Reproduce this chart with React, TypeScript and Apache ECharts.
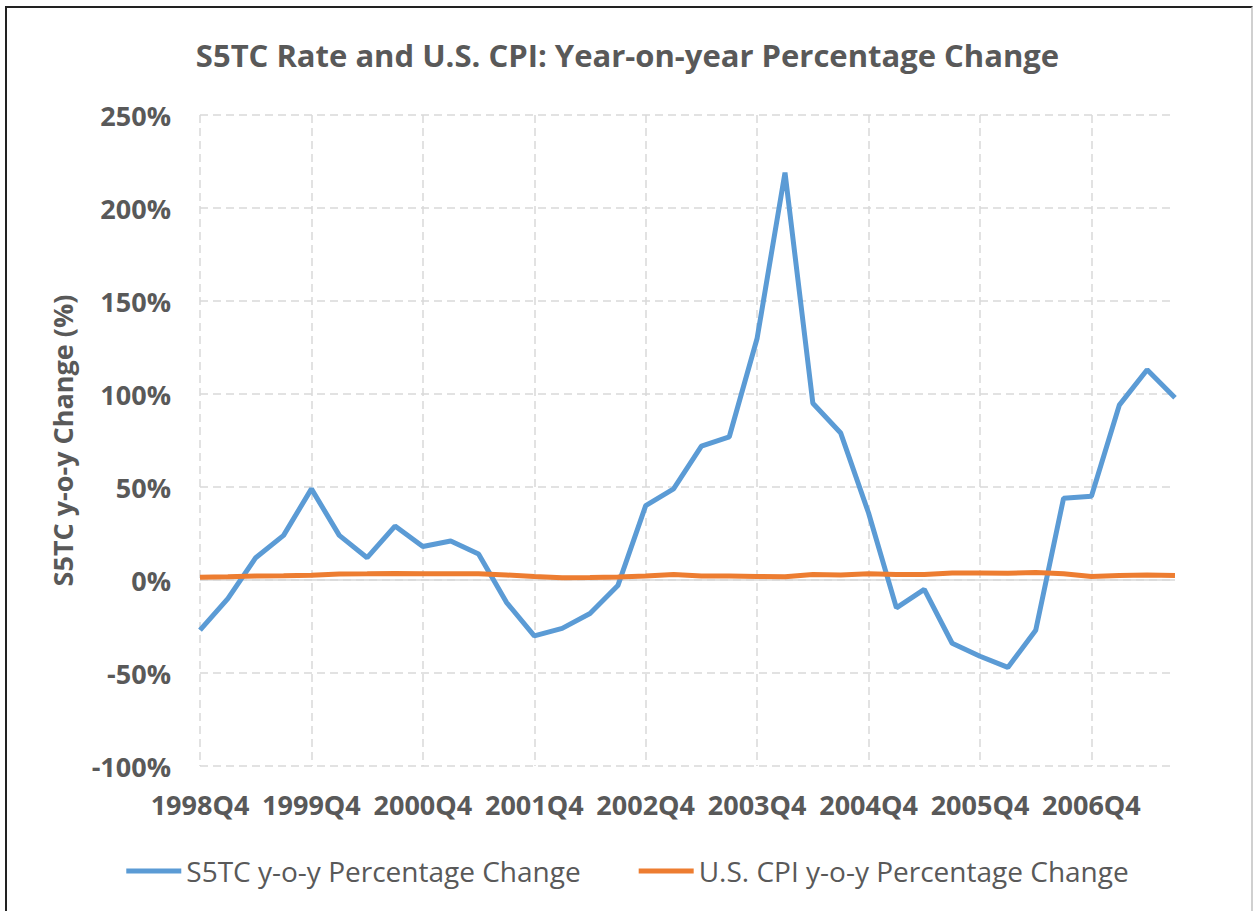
import React, { useEffect, useRef } from "react";
import * as echarts from "echarts";

const categories = [
  "1998Q4", "1999Q1", "1999Q2", "1999Q3", "1999Q4", "2000Q1", "2000Q2", "2000Q3",
  "2000Q4", "2001Q1", "2001Q2", "2001Q3", "2001Q4", "2002Q1", "2002Q2", "2002Q3",
  "2002Q4", "2003Q1", "2003Q2", "2003Q3", "2003Q4", "2004Q1", "2004Q2", "2004Q3",
  "2004Q4", "2005Q1", "2005Q2", "2005Q3", "2005Q4", "2006Q1", "2006Q2", "2006Q3",
  "2006Q4", "2007Q1", "2007Q2", "2007Q3",
];

const s5tcChange = [
  -27, -10, 12, 24, 49, 24, 12, 29,
  18, 21, 14, -12, -30, -26, -18, -3,
  40, 49, 72, 77, 130, 219, 95, 79,
  36, -15, -5, -34, -41, -47, -27, 44,
  45, 94, 113, 98,
];

const cpiChange = [
  1.5, 1.7, 2.1, 2.3, 2.6, 3.2, 3.3, 3.5,
  3.4, 3.4, 3.3, 2.7, 1.9, 1.2, 1.3, 1.6,
  2.2, 2.9, 2.1, 2.2, 1.9, 1.8, 2.9, 2.7,
  3.3, 3.0, 2.9, 3.8, 3.7, 3.6, 4.0, 3.3,
  1.9, 2.4, 2.7, 2.4,
];

const FONT = "'Open Sans', 'Noto Sans', sans-serif";
const TEXT = "#595959";
const GRID = "#d9d9d9";

export default function App() {
  const ref = useRef<HTMLDivElement>(null);
  useEffect(() => {
    if (!ref.current) return;
    const chart = echarts.init(ref.current, null, { renderer: "svg" });
    chart.setOption({
      animation: false,
      backgroundColor: "#ffffff",
      title: {
        text: "S5TC Rate and U.S. CPI: Year-on-year Percentage Change",
        left: "center",
        top: 34,
        textStyle: { fontFamily: FONT, fontSize: 31, fontWeight: "bold", color: TEXT },
      },
      legend: {
        bottom: 21,
        left: "center",
        itemWidth: 55,
        itemHeight: 5,
        itemGap: 58,
        icon: "rect",
        textStyle: { fontFamily: FONT, fontSize: 28, fontWeight: "normal", color: TEXT },
        data: ["S5TC y-o-y Percentage Change", "U.S. CPI y-o-y Percentage Change"],
      },
      grid: { left: 200, right: 80, top: 115, bottom: 145 },
      xAxis: {
        type: "category",
        data: categories,
        boundaryGap: false,
        axisLine: { show: false },
        axisTick: { show: false },
        axisLabel: {
          interval: 3,
          margin: 25,
          fontFamily: FONT,
          fontSize: 27,
          fontWeight: "bold",
          color: TEXT,
        },
        splitLine: {
          show: true,
          interval: 3,
          lineStyle: { color: GRID, width: 1.5, type: [8, 5] },
        },
      },
      yAxis: {
        type: "value",
        min: -100,
        max: 250,
        interval: 50,
        name: "S5TC y-o-y Change (%)",
        nameLocation: "middle",
        nameGap: 124,
        nameTextStyle: { fontFamily: FONT, fontSize: 27, fontWeight: "bold", color: TEXT },
        axisLine: { show: false },
        axisTick: { show: false },
        axisLabel: {
          margin: 29,
          formatter: "{value}%",
          fontFamily: FONT,
          fontSize: 27,
          fontWeight: "bold",
          color: TEXT,
        },
        splitLine: {
          show: true,
          lineStyle: { color: GRID, width: 1.5, type: [8, 5] },
        },
      },
      series: [
        {
          name: "S5TC y-o-y Percentage Change",
          type: "line",
          data: s5tcChange,
          symbol: "none",
          color: "#5B9BD5",
          lineStyle: { width: 5, color: "#5B9BD5" },
          z: 3,
          markLine: {
            silent: true,
            symbol: "none",
            label: { show: false },
            lineStyle: { color: GRID, width: 1.5, type: "solid" },
            data: [{ yAxis: 0 }],
            z: 1,
          },
        },
        {
          name: "U.S. CPI y-o-y Percentage Change",
          type: "line",
          data: cpiChange,
          symbol: "none",
          color: "#ED7D31",
          lineStyle: { width: 5, color: "#ED7D31" },
          z: 4,
        },
      ],
    });
    return () => chart.dispose();
  }, []);

  return (
    <div style={{ position: "absolute", left: 0, top: 0, width: 1255, height: 911, overflow: "hidden", background: "#fff" }}>
      <div ref={ref} style={{ position: "absolute", left: 0, top: 0, width: 1255, height: 911 }} />
      <div
        style={{
          position: "absolute",
          left: 5,
          top: 6,
          width: 1248,
          height: 920,
          borderLeft: "2px solid #222",
          borderTop: "2px solid #222",
          borderRight: "2px solid #d0d0d0",
          boxSizing: "border-box",
          pointerEvents: "none",
        }}
      />
    </div>
  );
}
